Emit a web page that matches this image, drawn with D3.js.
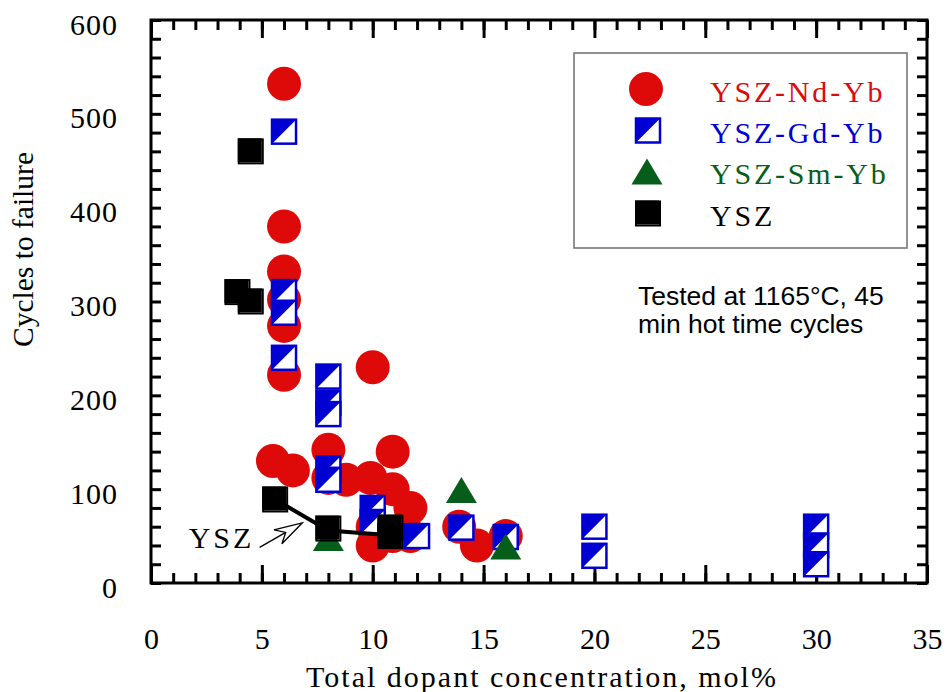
<!DOCTYPE html>
<html>
<head>
<meta charset="utf-8">
<script src="https://cdn.jsdelivr.net/npm/d3@7"></script>
<style>
  html, body { margin: 0; padding: 0; background: #fff; }
  svg { display: block; }
</style>
</head>
<body>
<svg id="chart" width="947" height="692"></svg>
<script>
// Thermal cycling life vs. total dopant content
const ndX = [6, 6, 6, 6, 6, 6, 10, 5.5, 6.4, 8, 8, 8.8, 9.9, 10.9, 10.9, 11.7, 10, 10, 10.9, 11.7, 13.9, 14.7, 16];
const ndY = [532, 380, 332, 302, 274, 222, 230, 130, 120, 142, 112, 110, 112, 140, 100, 80, 60, 40, 50, 50, 60, 40, 50];

const gdX = [6, 6, 6, 6, 8, 8, 8, 8, 8, 10, 10, 12, 14, 16, 20, 20, 30, 30, 30];
const gdY = [481, 310, 288, 240, 220, 192, 180, 122, 110, 80, 65, 50, 59, 49, 60, 29, 60, 40, 20];

const smX = [8, 14, 16];
const smY = [48, 99, 39];

const yszX = [4.5, 3.9, 4.5, 5.6, 8, 10.8, 10.8];
const yszY = [460, 310, 300, 89, 58, 59, 50];

// trend line through the baseline YSZ points
const yszLineX = [5.6, 8, 10.8];
const yszLineY = [89, 56, 51];

const xTicks = [0, 5, 10, 15, 20, 25, 30, 35];
const yTicks = [0, 100, 200, 300, 400, 500, 600];

const seriesNames = ["YSZ-Nd-Yb", "YSZ-Gd-Yb", "YSZ-Sm-Yb", "YSZ"];
const RED = "#de0a0a", BLUE = "#0000d2", GREEN = "#075e1a", BLACK = "#000";

const serif = "'Liberation Serif', 'Times New Roman', Times, serif";
const sans = "'Liberation Sans', Arial, Helvetica, sans-serif";

const svg = d3.select("#chart");
const x = d3.scaleLinear([0, 35], [151, 927]);
const y = d3.scaleLinear([0, 600], [583, 20]);

// ---- axes and ticks ----
function tickAxis(axis, transform, size, values) {
  const g = svg.append("g").attr("transform", transform)
    .call(axis.tickValues(values).tickSize(size).tickFormat(""));
  g.select(".domain").remove();
  g.selectAll("line").attr("stroke", "#000").attr("stroke-width", 3);
  return g;
}
const minorX = d3.range(0, 36);
const minorY = d3.range(0, 601, 20);
tickAxis(d3.axisBottom(x), `translate(0,${y(0)})`, -10, minorX);
tickAxis(d3.axisBottom(x), `translate(0,${y(0)})`, -18, xTicks);
tickAxis(d3.axisTop(x), `translate(0,${y(600)})`, -10, minorX);
tickAxis(d3.axisTop(x), `translate(0,${y(600)})`, -18, xTicks);
tickAxis(d3.axisLeft(y), `translate(${x(0)},0)`, -10, minorY);
tickAxis(d3.axisRight(y), `translate(${x(35)},0)`, -10, minorY);

// tick labels
const xl = svg.append("g").attr("transform", `translate(0,${y(0)})`)
  .call(d3.axisBottom(x).tickValues(xTicks).tickSize(0).tickPadding(0).tickFormat(d3.format("d")));
xl.select(".domain").remove();
xl.selectAll("text").attr("y", 66).attr("dy", null)
  .attr("font-family", serif).attr("font-size", 30).attr("fill", "#000");

const yl = svg.append("g").attr("transform", `translate(${x(0)},0)`)
  .call(d3.axisLeft(y).tickValues(yTicks).tickSize(0).tickPadding(0).tickFormat(d3.format("d")));
yl.select(".domain").remove();
yl.selectAll("text").attr("x", -33).attr("dy", 14)
  .attr("font-family", serif).attr("font-size", 30).attr("letter-spacing", 1).attr("fill", "#000");

// frame
svg.append("rect")
  .attr("x", x(0)).attr("y", y(600))
  .attr("width", x(35) - x(0)).attr("height", y(0) - y(600))
  .attr("fill", "none").attr("stroke", "#000").attr("stroke-width", 3);

// axis titles
svg.append("text")
  .attr("x", (x(0) + x(35)) / 2 + 3).attr("y", 687)
  .attr("text-anchor", "middle")
  .attr("font-family", serif).attr("font-size", 30).attr("letter-spacing", 2)
  .text("Total dopant concentration, mol%");
svg.append("text")
  .attr("transform", `translate(33,${(y(0) + y(600)) / 2 - 52}) rotate(-90)`)
  .attr("text-anchor", "middle")
  .attr("font-family", serif).attr("font-size", 29.5)
  .text("Cycles to failure");

// ---- marker painters ----
const SQ = 24;
function blueSquare(g, cx, cy) {
  const h = SQ / 2;
  g.append("rect").attr("x", cx - h).attr("y", cy - h).attr("width", SQ).attr("height", SQ).attr("fill", "#fff");
  g.append("path")
    .attr("d", `M${cx - h},${cy - h}L${cx + h},${cy - h}L${cx - h},${cy + h}Z`)
    .attr("fill", BLUE);
  g.append("rect").attr("x", cx - h).attr("y", cy - h).attr("width", SQ).attr("height", SQ)
    .attr("fill", "none").attr("stroke", BLUE).attr("stroke-width", 2.5);
}
function blackSquare(g, cx, cy) {
  const h = SQ / 2;
  g.append("rect").attr("x", cx - h).attr("y", cy - h).attr("width", SQ).attr("height", SQ)
    .attr("fill", "none").attr("stroke", BLACK).attr("stroke-width", 2);
  g.append("rect").attr("x", cx - h - 1).attr("y", cy - h - 1).attr("width", SQ).attr("height", SQ)
    .attr("fill", BLACK);
}
function triangle(g, cx, cy) {
  g.append("path")
    .attr("d", `M${cx},${cy - 13}L${cx + 15.5},${cy + 13}L${cx - 15.5},${cy + 13}Z`)
    .attr("fill", GREEN);
}

// ---- data marks ----
const marks = svg.append("g");
marks.selectAll("circle.nd").data(d3.zip(ndX, ndY)).join("circle")
  .attr("class", "nd")
  .attr("cx", d => x(d[0])).attr("cy", d => y(d[1])).attr("r", 17)
  .attr("fill", RED);

const gdG = marks.append("g");
d3.zip(gdX, gdY).forEach(d => blueSquare(gdG, x(d[0]), y(d[1])));

const smG = marks.append("g");
d3.zip(smX, smY).forEach(d => triangle(smG, x(d[0]), y(d[1])));

marks.append("path")
  .datum(d3.zip(yszLineX, yszLineY))
  .attr("d", d3.line().x(d => x(d[0])).y(d => y(d[1])))
  .attr("fill", "none").attr("stroke", BLACK).attr("stroke-width", 4);

const yszG = marks.append("g");
d3.zip(yszX, yszY).forEach(d => blackSquare(yszG, x(d[0]), y(d[1])));

// ---- YSZ callout with hollow arrow ----
const tail = [x(4.9), y(38)], tip = [x(6.82), y(64)];
const dx = tip[0] - tail[0], dy = tip[1] - tail[1];
const len = Math.hypot(dx, dy), ux = dx / len, uy = dy / len, nx = -uy, ny = ux;
const hl = 28, hw = 8, notch = 19;
const pt = (a, b) => [tip[0] - ux * a + nx * b, tip[1] - uy * a + ny * b];
const b1 = pt(hl, hw), b2 = pt(hl, -hw), nt = pt(notch, 0);
svg.append("line")
  .attr("x1", tail[0]).attr("y1", tail[1]).attr("x2", nt[0]).attr("y2", nt[1])
  .attr("stroke", "#000").attr("stroke-width", 1.3);
svg.append("path")
  .attr("d", `M${tip[0]},${tip[1]}L${b1[0]},${b1[1]}L${nt[0]},${nt[1]}L${b2[0]},${b2[1]}Z`)
  .attr("fill", "#fff").attr("stroke", "#000").attr("stroke-width", 1.3).attr("stroke-linejoin", "miter");
svg.append("text")
  .attr("x", x(4.66)).attr("y", y(37))
  .attr("text-anchor", "end")
  .attr("font-family", serif).attr("font-size", 30).attr("letter-spacing", 3)
  .text("YSZ");

// ---- test condition note ----
const note = svg.append("text").attr("font-family", sans).attr("font-size", 26.5).attr("fill", "#000");
note.append("tspan").attr("x", 638).attr("y", 305).text("Tested at 1165°C, 45");
note.append("tspan").attr("x", 638).attr("y", 333).text("min hot time cycles");

// ---- legend ----
const leg = svg.append("g");
leg.append("rect").attr("x", 574).attr("y", 53).attr("width", 333).attr("height", 195)
  .attr("fill", "#fff").attr("stroke", "#777").attr("stroke-width", 1.6);
const legColors = [RED, BLUE, GREEN, BLACK];
const rowY = [89, 130.5, 171.5, 213.5];
const baseY = [102.3, 143.3, 184.3, 225.7];
leg.append("circle").attr("cx", 646).attr("cy", rowY[0]).attr("r", 17).attr("fill", RED);
blueSquare(leg, 648, rowY[1]);
triangle(leg, 647, rowY[2]);
blackSquare(leg, 648, rowY[3]);
leg.selectAll("text.lab").data(seriesNames).join("text")
  .attr("class", "lab")
  .attr("x", 710).attr("y", (d, i) => baseY[i])
  .attr("font-family", serif).attr("font-size", 30).attr("letter-spacing", 2.8)
  .attr("fill", (d, i) => legColors[i])
  .text(d => d);
</script>
</body>
</html>
